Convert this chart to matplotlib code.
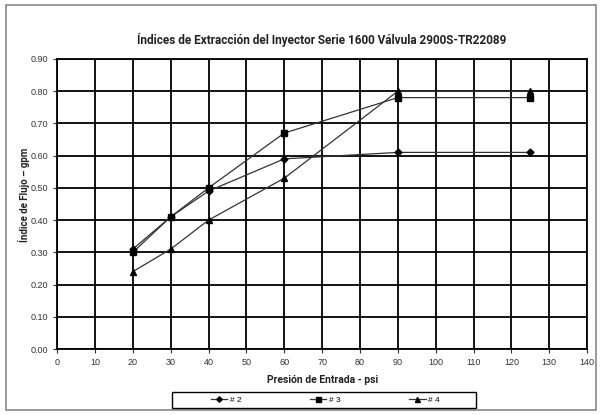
import matplotlib
matplotlib.use("Agg")
import matplotlib.pyplot as plt
from matplotlib.patches import Rectangle

# Inlet pressure (psi) and flow rates (gpm) for each injector
pressure = [20, 30, 40, 60, 90, 125]
flow_2 = [0.31, 0.41, 0.49, 0.59, 0.61, 0.61]
flow_3 = [0.30, 0.41, 0.50, 0.67, 0.78, 0.78]
flow_4 = [0.24, 0.31, 0.40, 0.53, 0.80, 0.80]
series_labels = ["# 2", "# 3", "# 4"]

x_ticks = list(range(0, 141, 10))
y_ticks = [i / 10 for i in range(0, 10)]

fig = plt.figure(figsize=(6.01, 4.15), dpi=100)
ax = fig.add_axes([0.095, 0.159, 0.882, 0.699])

# outer gray frame around the whole chart
fig.patches.append(Rectangle((0.01, 0.012), 0.982, 0.976, transform=fig.transFigure,
                             fill=False, edgecolor="#888888", linewidth=1.2))

line_kw = dict(color="#333333", linewidth=0.9, markerfacecolor="black",
               markeredgecolor="black")
ax.plot(pressure, flow_2, marker="D", markersize=3.5, label=series_labels[0], **line_kw)
ax.plot(pressure, flow_3, marker="s", markersize=4.5, label=series_labels[1], **line_kw)
ax.plot(pressure, flow_4, marker="^", markersize=4.5, label=series_labels[2], **line_kw)

ax.set_xlim(0, 140)
ax.set_ylim(0, 0.9)
ax.set_xticks(x_ticks)
ax.set_yticks(y_ticks)
ax.set_yticklabels([f"{v:.2f}" for v in y_ticks])
ax.grid(True, color="black", linewidth=1.3)
ax.set_axisbelow(True)
for s in ax.spines.values():
    s.set_linewidth(1.3)
ax.tick_params(labelsize=6.5, length=3, width=0.8, colors="#333333", labelcolor="#333333")
for lbl in ax.get_xticklabels() + ax.get_yticklabels():
    lbl.set_family("Liberation Sans")

ax.set_title("Índices de Extracción del Inyector Serie 1600 Válvula 2900S-TR22089",
             fontsize=8.5, fontweight="bold", family="Roboto", color="#222222", pad=11)
ax.set_xlabel("Presión de Entrada - psi", fontsize=7.5, fontweight="bold",
              family="Roboto", color="#222222", labelpad=6)
ax.set_ylabel("Índice de Flujo – gpm", fontsize=7, fontweight="bold",
              family="Roboto", color="#222222", labelpad=3)
ax.yaxis.set_label_coords(-0.052, 0.53)

# legend without its own frame; a box is drawn around it separately
leg = fig.legend(*ax.get_legend_handles_labels(), loc="center",
                 bbox_to_anchor=(0.541, 0.036), ncol=3, frameon=False,
                 numpoints=1, markerscale=0.8, columnspacing=8.2,
                 handlelength=2.0, handletextpad=0.3,
                 prop={"family": "Liberation Sans", "size": 6})
fig.patches.append(Rectangle((172 / 601, 1 - 408 / 415), 304 / 601, 16 / 415,
                             transform=fig.transFigure, fill=False,
                             edgecolor="black", linewidth=1.0))

fig.savefig("out.png", dpi=100)
